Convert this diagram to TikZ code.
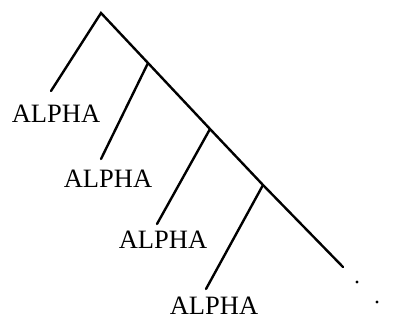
\documentclass[tikz,border=0pt]{standalone}
\usepackage{fontspec}
\setmainfont{Liberation Serif}
\usetikzlibrary{positioning}

\begin{document}
\begin{tikzpicture}[
    x=1pt, y=-1pt,
    branch/.style={line width=2.4pt, line cap=round},
    leaf/.style={font=\fontsize{26.5}{30}\selectfont, inner sep=0pt, anchor=center},
    dot/.style={circle, fill, inner sep=0pt, minimum size=3.4pt}
]
\useasboundingbox (0,0) rectangle (393,321);
% spine of the tree
\coordinate (top) at (101,13);
\coordinate (j1)  at (148,63);
\coordinate (j2)  at (210,129);
\coordinate (j3)  at (263,185);
\coordinate (end) at (343,267);
% ends of the branches
\coordinate (e0) at (51,91);
\coordinate (e1) at (101,159);
\coordinate (e2) at (157,224);
\coordinate (e3) at (206,289);

\node[leaf] (alpha0) at (56,114)  {ALPHA};
\node[leaf] (alpha1) at (108,179) {ALPHA};
\node[leaf] (alpha2) at (163,240) {ALPHA};
\node[leaf] (alpha3) at (214,306) {ALPHA};

\node[dot] (dot1) at (357,282) {};
\node[dot] (dot2) at (377,302) {};

\draw[branch] (e0) -- (top) -- (j1) -- (j2) -- (j3) -- (end);
\draw[branch]
    (j1) -- (e1)
    (j2) -- (e2)
    (j3) -- (e3);
\end{tikzpicture}
\end{document}
